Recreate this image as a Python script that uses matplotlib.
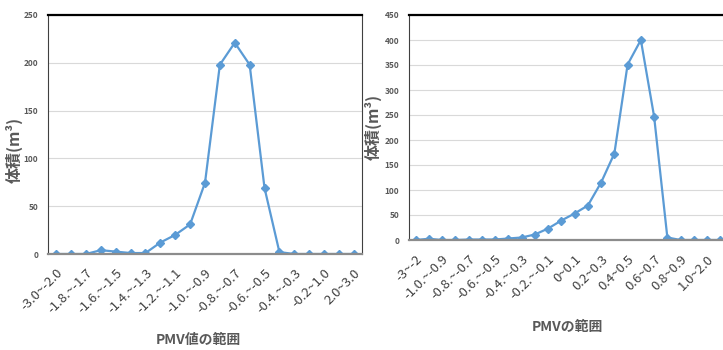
import matplotlib
matplotlib.use("Agg")
import matplotlib.pyplot as plt

plt.rcParams['font.family'] = ['Noto Sans CJK JP', 'DejaVu Sans']

left_categories = ["-3.0~-2.0", "-2.0~-1.8", "-1.8.~-1.7", "-1.7.~-1.6", "-1.6.~-1.5",
                   "-1.5.~-1.4", "-1.4.~-1.3", "-1.3.~-1.2", "-1.2.~-1.1", "-1.1.~-1.0",
                   "-1.0.~-0.9", "-0.9.~-0.8", "-0.8.~-0.7", "-0.7.~-0.6", "-0.6.~-0.5",
                   "-0.5.~-0.4", "-0.4.~-0.3", "-0.3.~-0.2", "-0.2~1.0", "1.0~2.0", "2.0~3.0"]
left_values = [0, 0, 0, 4, 2.5, 1, 1, 12, 20, 31, 74.5, 198, 221, 198, 69, 2, 0, 0, 0, 0, 0]

right_categories = ["-3~-2", "-2~-1.0", "-1.0.~-0.9", "-0.9.~-0.8", "-0.8.~-0.7", "-0.7.~-0.6",
                    "-0.6.~-0.5", "-0.5.~-0.4", "-0.4.~-0.3", "-0.3.~-0.2", "-0.2.~-0.1",
                    "-0.1~0", "0~0.1", "0.1~0.2", "0.2~0.3", "0.3~0.4", "0.4~0.5",
                    "0.5~0.6", "0.6~0.7", "0.7~0.8", "0.8~0.9", "0.9~1.0", "1.0~2.0", "2.0~3.0"]
right_values = [0, 2.5, 0, 0, 1, 1, 1, 3, 5, 11, 23, 39, 53, 69, 115, 173, 351, 400, 247,
                5, 0, 0, 0, 0]

LINE = '#5B9BD5'
TXT = '#595959'
TICK = '#404040'

W, H = 723, 350
fig = plt.figure(figsize=(7.23, 3.5), dpi=100)

def style(ax, ymax, ystep):
    ax.set_ylim(0, ymax)
    ax.set_yticks(range(0, ymax + 1, ystep))
    ax.grid(axis='y', color='#D9D9D9', linewidth=0.8)
    ax.set_axisbelow(True)
    ax.spines['top'].set_color('black')
    ax.spines['top'].set_linewidth(1.6)
    ax.spines['left'].set_color('#404040')
    ax.spines['right'].set_color('#404040')
    ax.spines['bottom'].set_color('#8C8C8C')
    ax.spines['bottom'].set_linewidth(1.6)
    ax.tick_params(axis='y', length=0, labelsize=6, labelcolor=TXT, pad=7)
    ax.tick_params(axis='x', length=0, labelsize=9.5, labelcolor=TICK, pad=9)
    for t in ax.get_yticklabels():
        t.set_fontweight('bold')

# left chart
ax1 = fig.add_axes([48/W, 1 - 254/H, (362-48)/W, (254-15)/H])
x1 = list(range(len(left_categories)))
ax1.plot(x1, left_values, color=LINE, linewidth=1.6, marker='D', markersize=4)
ax1.set_xlim(-0.55, len(left_categories) - 0.45)
style(ax1, 250, 50)
ax1.set_xticks(x1[::2])
ax1.set_xticklabels(left_categories[::2], rotation=45, ha='right', rotation_mode='anchor')
fig.text(14/W, 1 - 150/H, "体積(m³)", rotation=90, ha='center', va='center',
         fontsize=11.5, color=TXT, fontweight='bold')
fig.text(198/W, 1 - 340/H, "PMV値の範囲", ha='center', va='center',
         fontsize=10, color=TXT, fontweight='bold')

# right chart
ax2 = fig.add_axes([409/W, 1 - 240/H, (W-409)/W, (240-15)/H])
x2 = list(range(len(right_categories)))
ax2.plot(x2, right_values, color=LINE, linewidth=1.6, marker='D', markersize=4)
ax2.set_xlim(-0.5, 23.2)
style(ax2, 450, 50)
ax2.spines['right'].set_visible(False)
ax2.set_xticks(x2[::2])
ax2.set_xticklabels(right_categories[::2], rotation=45, ha='right', rotation_mode='anchor')
fig.text(373/W, 1 - 127/H, "体積(m³)", rotation=90, ha='center', va='center',
         fontsize=11.5, color=TXT, fontweight='bold')
fig.text(567/W, 1 - 327/H, "PMVの範囲", ha='center', va='center',
         fontsize=10, color=TXT, fontweight='bold')

fig.savefig("out.png", dpi=100)
